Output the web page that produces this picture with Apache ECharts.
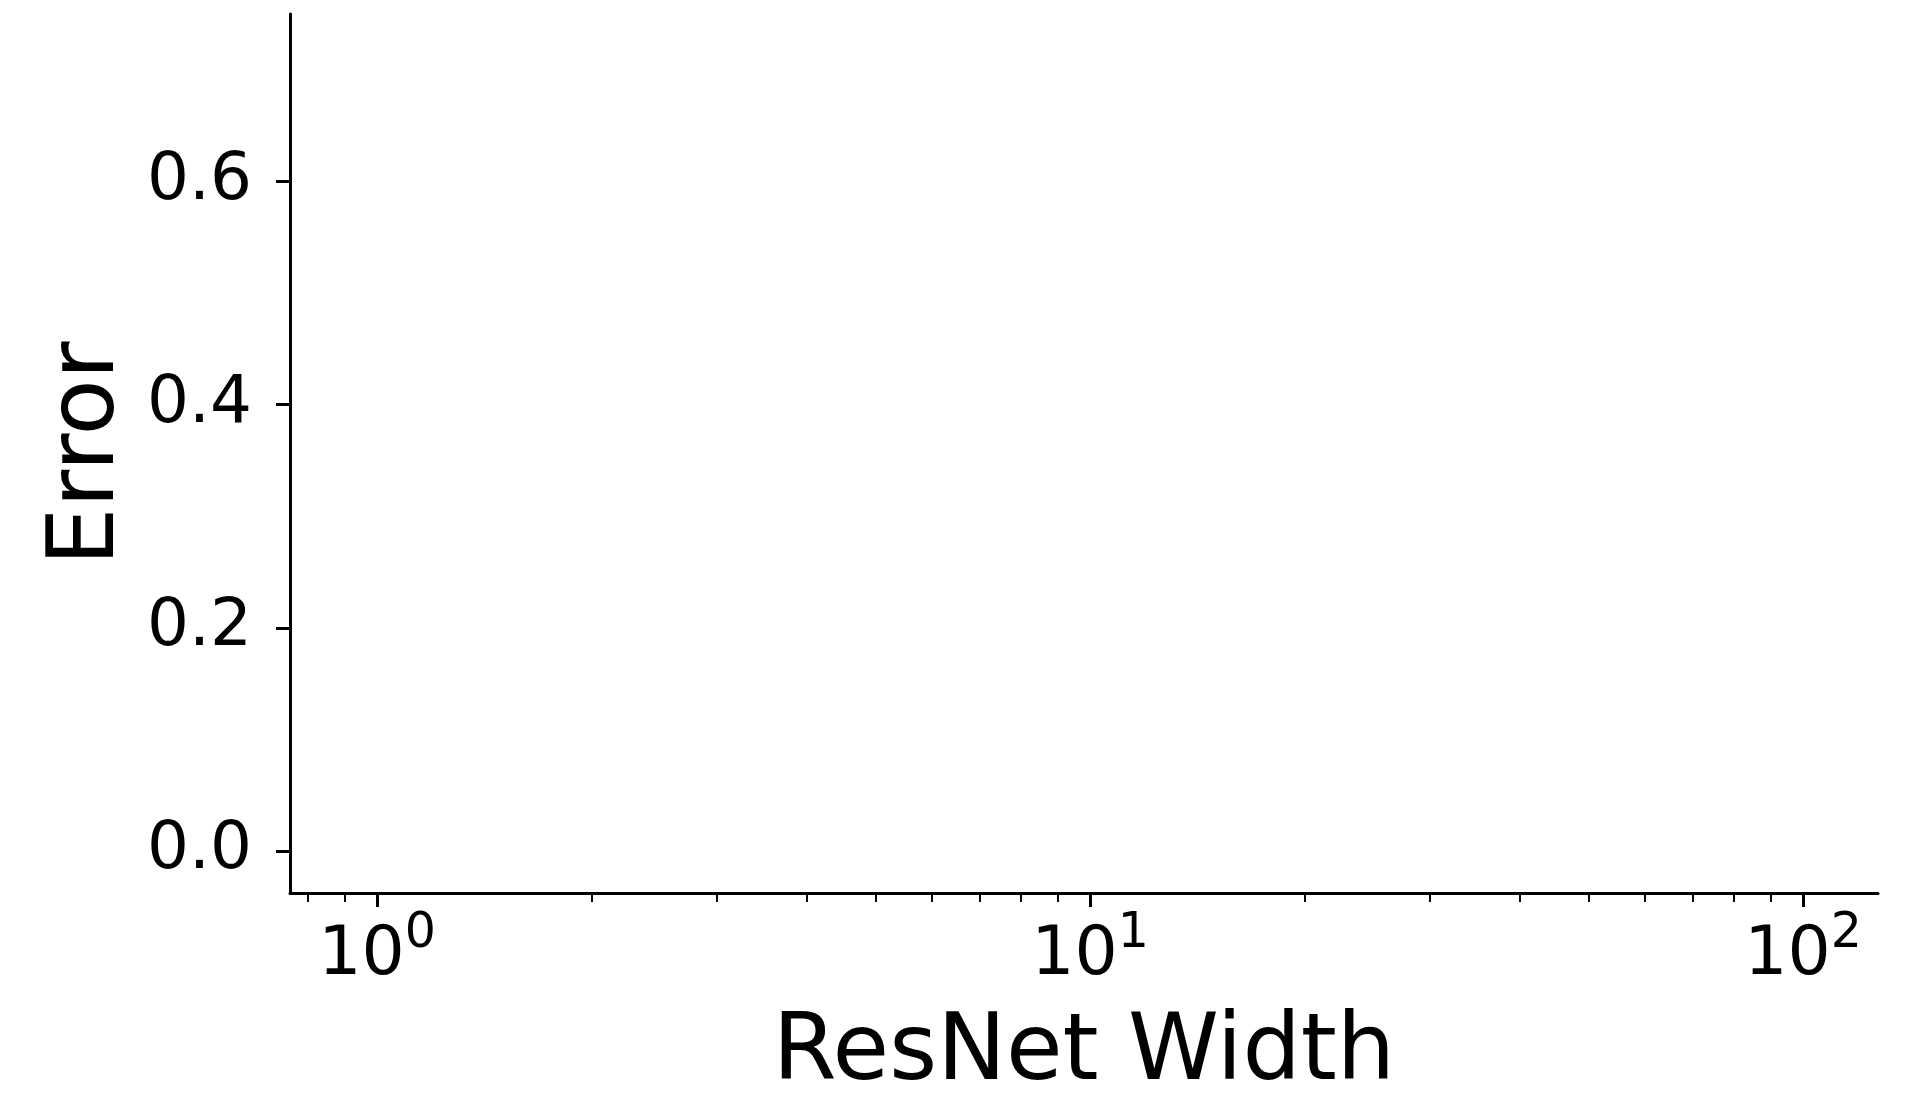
<!DOCTYPE html>
<html>
<head>
<meta charset="utf-8">
<script src="https://cdn.jsdelivr.net/npm/echarts@6/dist/echarts.min.js"></script>
<style>html,body{margin:0;padding:0;background:#fff}#c{width:1921px;height:1093px}</style>
</head>
<body>
<div id="c"></div>
<script>
// Axis extents
const xRange = [0.755, 127.4];          // ResNet width (log axis)
const yRange = [-0.0375, 0.75];         // Error
// Tick values
const xMajorTicks = [1, 10, 100];
const xMinorTicks = [0.8, 0.9, 2, 3, 4, 5, 6, 7, 8, 9, 20, 30, 40, 50, 60, 70, 80, 90];
const yTicks = [0, 0.2, 0.4, 0.6];
const yTickLabels = ['0.0', '0.2', '0.4', '0.6'];
// No plotted series in the reference
const seriesData = [];

const FONT = 'DejaVu Sans';
const lg = v => Math.log10(v);

const chart = echarts.init(document.getElementById('c'), null, {renderer: 'canvas'});
chart.setOption({
  animation: false,
  backgroundColor: '#fff',
  grid: {left: 290, right: 43, top: 14, bottom: 200, containLabel: false, outerBoundsMode: 'none'},
  xAxis: [{
    type: 'value',
    min: lg(xRange[0]), max: lg(xRange[1]),
    name: 'ResNet Width', nameLocation: 'middle', nameGap: 116,
    nameTextStyle: {fontFamily: FONT, fontSize: 92, color: '#000'},
    axisLine: {show: true, onZero: false, lineStyle: {color: '#000', width: 3}},
    axisTick: {show: true, length: 14, lineStyle: {color: '#000', width: 3}, customValues: xMajorTicks.map(lg)},
    axisLabel: {
      show: true, margin: 17, customValues: xMajorTicks.map(lg),
      formatter: v => '{b|10}{s|' + Math.round(v) + '}',
      rich: {
        b: {fontFamily: FONT, fontSize: 68, color: '#000', lineHeight: 80, verticalAlign: 'bottom'},
        s: {fontFamily: FONT, fontSize: 49, color: '#000', lineHeight: 40, verticalAlign: 'top'}
      }
    },
    splitLine: {show: false}
  }, {
    type: 'value',
    min: lg(xRange[0]), max: lg(xRange[1]),
    position: 'bottom',
    axisLine: {show: false, onZero: false},
    axisTick: {show: true, length: 9, lineStyle: {color: '#000', width: 2}, customValues: xMinorTicks.map(lg)},
    axisLabel: {show: false},
    splitLine: {show: false}
  }],
  yAxis: {
    type: 'value',
    min: yRange[0], max: yRange[1],
    name: 'Error', nameLocation: 'middle', nameGap: 155, nameRotate: 90,
    nameTextStyle: {fontFamily: FONT, fontSize: 92, color: '#000'},
    axisLine: {show: true, onZero: false, lineStyle: {color: '#000', width: 3}},
    axisTick: {show: true, length: 14, lineStyle: {color: '#000', width: 3}, customValues: yTicks},
    axisLabel: {
      show: true, margin: 38, customValues: yTicks,
      fontFamily: FONT, fontSize: 66, color: '#000',
      formatter: v => yTickLabels[yTicks.findIndex(t => Math.abs(t - v) < 1e-9)] ?? v.toFixed(1)
    },
    splitLine: {show: false}
  },
  series: [{type: 'line', xAxisIndex: 0, yAxisIndex: 0, data: seriesData}]
});
</script>
</body>
</html>
